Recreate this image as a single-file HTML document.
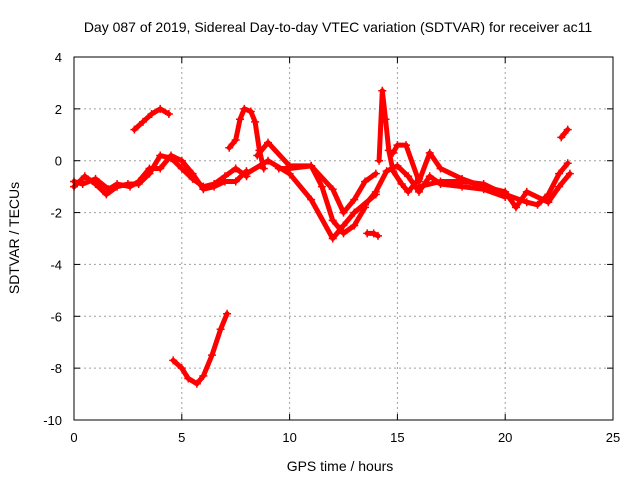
<!DOCTYPE html>
<html><head><meta charset="utf-8"><style>
body{margin:0;background:#fff}
svg{font-family:"Liberation Sans",sans-serif;font-size:13px}
</style></head><body>
<svg id="chart" width="640" height="480">
<rect width="640" height="480" fill="#fff"/>
<text x="338" y="32" text-anchor="middle" font-size="14">Day 087 of 2019, Sidereal Day-to-day VTEC variation (SDTVAR) for receiver ac11</text>
<g id="grid"></g><g id="ticks"></g><g id="marks"></g>
<rect x="74" y="57" width="539" height="363" fill="none" stroke="#000"/>
<text x="340" y="471" text-anchor="middle" font-size="14">GPS time / hours</text>
<text transform="translate(19,238) rotate(-90)" text-anchor="middle" font-size="14">SDTVAR / TECUs</text>
</svg>
<script>
const xTicks=[0,5,10,15,20,25];
const yTicks=[4,2,0,-2,-4,-6,-8,-10];
const seriesNames=["band-a","band-b","early-high","low-dip","spike-8h","mid-1","mid-2","mid-3","low-14h","spike-14h","late-1","late-2","late-3","end-high"];
const seriesT=[
[0,0.5,1,1.5,2,2.5,3,3.5,4,4.5,5,5.5,6,6.5,7,7.5,8],
[0,0.4,1,1.6,2,2.6,3,3.5,4,4.5,5,5.5,6,6.5,7,7.5,8],
[2.8,3.2,3.6,4,4.4],
[4.6,5,5.3,5.7,6,6.4,6.8,7.1],
[7.2,7.5,7.7,7.9,8.2,8.4,8.6,8.8],
[8,9,10,11,12,12.5,13,14],
[8.5,9,10,11,11.5,12,12.5,13,13.5],
[9.5,10,11,12,12.5,13,13.5,14],
[13.6,13.9,14.1],
[14.15,14.3,14.45,14.6,14.8,15.2,15.5,16],
[14.8,15,15.4,16,16.5,17,18,19,20,20.5,21,22,22.5,23],
[16,17,18,19,20,21,21.5,22,22.5,22.9],
[13.5,14,14.5,15,15.5,16,16.5,17,18,19,20],
[22.6,22.9]];
const seriesV=[
[-1,-0.6,-0.9,-1.3,-1,-0.9,-0.9,-0.5,0.2,0.1,-0.3,-0.7,-1,-0.9,-0.6,-0.3,-0.6],
[-0.8,-0.9,-0.7,-1.1,-0.9,-1,-0.8,-0.3,-0.3,0.2,0,-0.5,-1.1,-1,-0.8,-0.8,-0.4],
[1.2,1.5,1.8,2,1.8],
[-7.7,-8,-8.4,-8.6,-8.3,-7.5,-6.5,-5.9],
[0.5,0.8,1.6,2,1.9,1.5,0.4,-0.3],
[-0.5,0,-0.5,-1.5,-3,-2.5,-2,-1.3],
[0.2,0.7,-0.2,-0.2,-1,-2.3,-2.8,-2.5,-1.8],
[-0.3,-0.3,-0.2,-1.1,-2,-1.5,-0.8,-0.5],
[-2.8,-2.8,-2.9],
[0,2.7,1.6,0.4,-0.4,-0.9,-1.2,-0.7],
[0.3,0.6,0.6,-0.8,0.3,-0.3,-0.7,-1,-1.2,-1.8,-1.2,-1.6,-1,-0.5],
[-1,-0.8,-0.8,-0.9,-1.3,-1.6,-1.7,-1.3,-0.5,-0.1],
[-1.7,-1.2,-0.4,-0.2,-0.6,-1.2,-0.6,-0.9,-1,-1.1,-1.4],
[0.9,1.2]];
const X0=74,X1=613,Y0=57,Y1=420;
const sx=t=>X0+(t-0)/(25-0)*(X1-X0);
const sy=v=>Y0+(4-v)/(4-(-10))*(Y1-Y0);
const NS="http://www.w3.org/2000/svg";
const mk=(tag,attrs,parent)=>{const e=document.createElementNS(NS,tag);for(const k in attrs)e.setAttribute(k,attrs[k]);parent.appendChild(e);return e;};
const grid=document.getElementById('grid'),ticks=document.getElementById('ticks'),marks=document.getElementById('marks');
xTicks.forEach(t=>{
 const x=sx(t);
 if(t>0&&t<25){const g=mk('line',{x1:x,x2:x,y1:Y0,y2:Y1,stroke:'#a0a0a0','stroke-dasharray':'2,3'},grid);
 
 }
 mk('line',{x1:x,x2:x,y1:Y1,y2:Y1-6,stroke:'#000'},ticks);mk('line',{x1:x,x2:x,y1:Y0,y2:Y0+6,stroke:'#000'},ticks);
 const l=mk('text',{x:x,y:Y1+22,'text-anchor':'middle'},ticks);l.textContent=t;
 
 
});
yTicks.forEach(v=>{
 const y=sy(v);
 if(v<4&&v>-10){const g=mk('line',{x1:X0,x2:X1,y1:y,y2:y,stroke:'#a0a0a0','stroke-dasharray':'2,3'},grid);
 
 }
 mk('line',{x1:X0,x2:X0+6,y1:y,y2:y,stroke:'#000'},ticks);mk('line',{x1:X1,x2:X1-6,y1:y,y2:y,stroke:'#000'},ticks);
 const l=mk('text',{x:X0-12,y:y+5,'text-anchor':'end'},ticks);l.textContent=v;
 
 
});
seriesT.forEach((ts,i)=>{
 const vs=seriesV[i];
 const g=mk('g',{},marks);
 
 
 const pts=ts.map((t,j)=>sx(t)+','+sy(vs[j])).join(' ');
 mk('polyline',{points:pts,fill:'none',stroke:'#f00','stroke-width':5,'stroke-linejoin':'round','stroke-linecap':'round'},g);
 ts.forEach((t,j)=>{
  const x=sx(t),y=sy(vs[j]);
  const p=mk('path',{d:`M${x-4},${y}H${x+4}M${x},${y-4}V${y+4}`,stroke:'#f00','stroke-width':1.5},g);
  
  
 });
});
</script>
</body></html>
